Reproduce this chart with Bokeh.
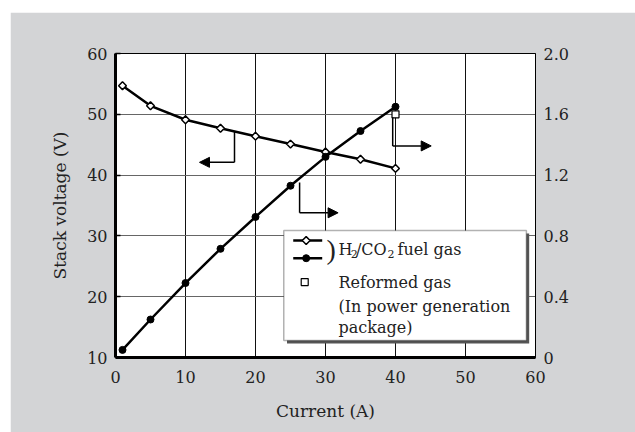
import numpy as np
from bokeh.plotting import figure
from bokeh.models import (Range1d, LinearAxis, FixedTicker, CustomJSTickFormatter,
                          Label, Arrow, NormalHead, BoxAnnotation)
from bokeh.embed import file_html
from bokeh.resources import INLINE

# ---- data ----
current = [1, 5, 10, 15, 20, 25, 30, 35, 40]                       # A
voltage = [54.7, 51.4, 49.1, 47.7, 46.4, 45.1, 43.8, 42.6, 41.1]     # V (H2/CO2)
power = [0.05, 0.25, 0.49, 0.715, 0.925, 1.13, 1.32, 1.49, 1.65]    # kW (H2/CO2)
reformed_current = [40]
reformed_power = [1.60]

x_ticks = [0, 10, 20, 30, 40, 50, 60]
v_ticks = [10, 20, 30, 40, 50, 60]
p_ticks = [0, 0.4, 0.8, 1.2, 1.6, 2.0]

FONT = "DejaVu Serif"
TXT = "#222222"
TICK_FS = "16px"
LAB_FS = "17px"
LEG_FS = "16px"

p = figure(width=625, height=420, x_range=Range1d(0, 60), y_range=Range1d(10, 60),
           output_backend="svg", toolbar_location=None,
           min_border_left=105, min_border_right=100, min_border_top=41, min_border_bottom=75)
p.margin = (12, 0, 0, 10)
p.background_fill_color = "white"
p.border_fill_color = "#d3d4d6"
p.outline_line_color = "black"
p.outline_line_width = 1

p.extra_y_ranges = {"power": Range1d(0, 2.0)}

# axes
p.xaxis.ticker = FixedTicker(ticks=x_ticks)
p.yaxis.ticker = FixedTicker(ticks=v_ticks)
for ax in (p.xaxis[0], p.yaxis[0]):
    ax.axis_line_width = 3
    ax.axis_line_color = "black"
    ax.major_label_text_font = FONT
    ax.major_label_text_font_size = TICK_FS
    ax.major_label_text_color = TXT
    ax.axis_label_text_font = FONT
    ax.axis_label_text_font_size = LAB_FS
    ax.axis_label_text_font_style = "normal"
    ax.axis_label_text_color = TXT
    ax.minor_tick_line_color = None
p.xaxis.major_tick_in = 0
p.xaxis.major_tick_out = 0
p.xaxis.major_label_standoff = 13
p.xaxis.axis_label = "Current (A)"
p.xaxis.axis_label_standoff = 15
p.yaxis.major_tick_in = 5
p.yaxis.major_tick_out = 0
p.yaxis.major_tick_line_width = 1.5
p.yaxis.major_label_standoff = 8
p.yaxis.axis_label = "Stack voltage (V)"
p.yaxis.axis_label_standoff = 14

right = LinearAxis(y_range_name="power", ticker=FixedTicker(ticks=p_ticks),
                   formatter=CustomJSTickFormatter(code="return tick == 0 ? '0' : tick.toFixed(1);"))
right.axis_line_width = 1
right.axis_line_color = "black"
right.major_tick_in = 0
right.major_tick_out = 0
right.minor_tick_line_color = None
right.major_label_standoff = 8
right.major_label_text_font = FONT
right.major_label_text_font_size = TICK_FS
right.major_label_text_color = TXT
p.add_layout(right, "right")

p.xgrid.ticker = FixedTicker(ticks=x_ticks)
p.ygrid.ticker = FixedTicker(ticks=v_ticks)
p.xgrid.grid_line_color = "#111111"
p.xgrid.grid_line_width = 1
p.ygrid.grid_line_color = "#666666"
p.ygrid.grid_line_width = 1

# data series
p.line(current, voltage, line_width=2.5, line_color="black")
p.scatter(current, voltage, marker="square", angle=np.pi / 4, size=5.5,
          fill_color="white", line_color="black", line_width=1.5)
p.line(current, power, y_range_name="power", line_width=2.5, line_color="black")
p.scatter(current, power, y_range_name="power", marker="circle", size=7,
          fill_color="black", line_color="black")
p.scatter(reformed_current, reformed_power, y_range_name="power", marker="square", size=7,
          fill_color="white", line_color="black", line_width=1.2)

# pointer arrows
head = dict(size=10, fill_color="black", line_color="black")
for (xv, y0, y1, xt) in [(17.0, 47.2, 42.1, 12.0), (26.3, 38.8, 33.8, 31.8), (39.6, 49.5, 44.8, 45.1)]:
    p.add_layout(Arrow(x_start=xv, y_start=y0, x_end=xv, y_end=y1, end=None,
                       line_width=1.5, line_color="black"))
    p.add_layout(Arrow(x_start=xv, y_start=y1, x_end=xt, y_end=y1, end=NormalHead(**head),
                       line_width=1.5, line_color="black"))

# right axis title
p.add_layout(Label(x=68.6, y=35.3, text="Power (kW)", angle=np.pi / 2, text_align="center",
                   text_baseline="middle", text_font=FONT, text_font_size=LAB_FS,
                   text_color=TXT))

# legend (hand built)
p.add_layout(BoxAnnotation(left=24.5, right=59.1, top=30.4, bottom=12.3, fill_color="#555555",
                           fill_alpha=1, line_color=None))
p.add_layout(BoxAnnotation(left=24.04, right=58.7, top=30.9, bottom=12.8, fill_color="white",
                           fill_alpha=1, line_color="black", line_width=1.5))
p.add_layout(Arrow(x_start=25.39, y_start=29.24, x_end=29.53, y_end=29.24, end=None,
                   line_width=2.5, line_color="black"))
p.add_layout(Arrow(x_start=25.39, y_start=26.33, x_end=29.53, y_end=26.33, end=None,
                   line_width=2.5, line_color="black"))
p.scatter([27.24], [29.24], marker="square", angle=np.pi / 4, size=5.5, fill_color="white",
          line_color="black", line_width=1.5, level="overlay")
p.scatter([27.24], [26.33], marker="circle", size=7, fill_color="black", line_color="black",
          level="overlay")
p.scatter([27.03], [22.4], marker="square", size=7, fill_color="white", line_color="black",
          line_width=1.2, level="overlay")
lab = dict(text_font=FONT, text_font_size=LEG_FS, text_color=TXT, text_baseline="middle")
sub = dict(text_font=FONT, text_font_size="11px", text_color=TXT, text_baseline="middle")
p.add_layout(Label(x=30.15, y=27.8, text=")", text_font="Liberation Serif", text_font_size="28px",
                   text_color=TXT, text_baseline="middle"))
p.add_layout(Label(x=31.86, y=27.76, text="H", **lab))
p.add_layout(Label(x=33.62, y=27.0, text="2", **sub))
p.add_layout(Label(x=34.35, y=27.76, text="/CO", **lab))
p.add_layout(Label(x=38.85, y=27.0, text="2", **sub))
p.add_layout(Label(x=40.3, y=27.76, text="fuel gas", **lab))
p.add_layout(Label(x=31.86, y=22.4, text="Reformed gas", **lab))
p.add_layout(Label(x=31.86, y=18.4, text="(In power generation", **lab))
p.add_layout(Label(x=31.86, y=14.98, text="package)", **lab))

open("out.html", "w").write(file_html(p, INLINE))
